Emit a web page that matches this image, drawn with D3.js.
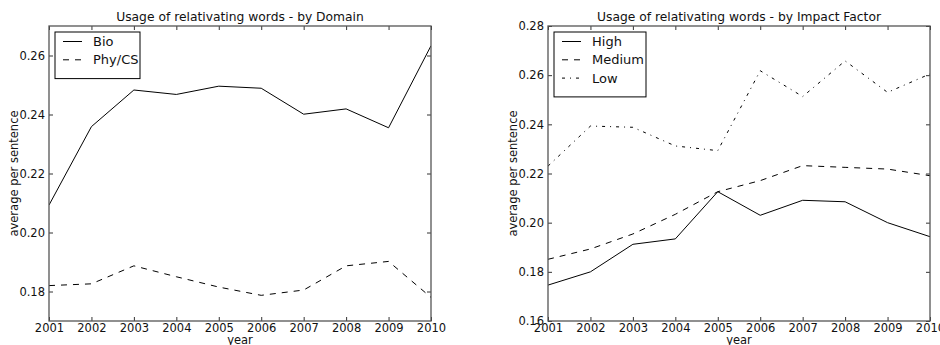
<!DOCTYPE html>
<html><head><meta charset="utf-8">
<script src="https://cdn.jsdelivr.net/npm/d3@7"></script>
<style>body{margin:0;background:#fff}svg{display:block;font-family:"DejaVu Sans",sans-serif}</style>
</head><body><svg id="c" width="940" height="345"></svg>
<script>
const years = [2001,2002,2003,2004,2005,2006,2007,2008,2009,2010];
const bio    = [0.2093,0.2359,0.2483,0.2468,0.2496,0.2489,0.2401,0.2419,0.2355,0.2633];
const phycs  = [0.1820,0.1826,0.1887,0.1850,0.1815,0.1787,0.1805,0.1887,0.1902,0.1780];
const high   = [0.1746,0.1800,0.1912,0.1934,0.2126,0.2030,0.2091,0.2085,0.2000,0.1943];
const medium = [0.1851,0.1893,0.1954,0.2034,0.2126,0.2171,0.2232,0.2225,0.2218,0.2191];
const low    = [0.2230,0.2393,0.2388,0.2312,0.2293,0.2618,0.2513,0.2658,0.2530,0.2605];
const leftTicks = [0.18,0.20,0.22,0.24,0.26];
const rightTicks = [0.16,0.18,0.20,0.22,0.24,0.26,0.28];

const dashes = {solid:null, dashed:"6,6", dashdot:"3,5,1,5"};
const svg = d3.select("#c");

function panel(cfg){
  const {x0,x1,y0,y1,domain,ticks,title,series,legendW,ylabX} = cfg;
  const x = d3.scaleLinear().domain([2001,2010]).range([x0,x1]);
  const y = d3.scaleLinear().domain(domain).range([y1,y0]);
  const g = svg.append("g");
  const clipId = "clip"+x0;
  g.append("clipPath").attr("id",clipId).append("rect").attr("x",x0).attr("y",y0).attr("width",x1-x0).attr("height",y1-y0);
  const line = d3.line().x((d,i)=>x(years[i])).y(d=>y(d));
  series.forEach(s=>{
    g.append("path").attr("d",line(s.values)).attr("fill","none").attr("stroke","#000")
     .attr("stroke-width",1).attr("stroke-dasharray",dashes[s.style]).attr("clip-path",`url(#${clipId})`);
  });
  const fmt = d3.format(".2f");
  const ax = g.append("g").attr("transform",`translate(0,${y1})`).call(d3.axisBottom(x).tickValues(years).tickFormat(d3.format("d")).tickSize(-4).tickPadding(3));
  const axT = g.append("g").attr("transform",`translate(0,${y0})`).call(d3.axisTop(x).tickValues(years).tickFormat("").tickSize(-4));
  const ay = g.append("g").attr("transform",`translate(${x0},0)`).call(d3.axisLeft(y).tickValues(ticks).tickFormat(fmt).tickSize(-4).tickPadding(4));
  const ayR = g.append("g").attr("transform",`translate(${x1},0)`).call(d3.axisRight(y).tickValues(ticks).tickFormat("").tickSize(-4));
  [ax,axT,ay,ayR].forEach(a=>{a.select(".domain").remove();a.selectAll("line").attr("stroke","#333");a.selectAll("text").attr("fill","#111").style("font-size","11.5px").style("font-family","DejaVu Sans");});
  g.append("rect").attr("x",x0).attr("y",y0).attr("width",x1-x0).attr("height",y1-y0).attr("fill","none").attr("stroke","#555").attr("stroke-width",1.3);
  g.append("text").attr("x",(x0+x1)/2).attr("y",y0-5).attr("text-anchor","middle").style("font-size","12.3px").attr("fill","#111").text(title);
  g.append("text").attr("x",(x0+x1)/2).attr("y",y1+22.5).attr("text-anchor","middle").style("font-size","11.5px").attr("fill","#111").text("year");
  g.append("text").attr("transform",`translate(${ylabX},${(y0+y1)/2}) rotate(-90)`).attr("text-anchor","middle").attr("dominant-baseline","central").style("font-size","11.5px").attr("fill","#111").text("average per sentence");
  const lx = x0+6, ly = y0+6, rowH = 18.3;
  const lh = 10 + series.length*rowH;
  g.append("rect").attr("x",lx).attr("y",ly).attr("width",legendW).attr("height",lh).attr("fill","#fff").attr("stroke","#000").attr("stroke-width",1);
  series.forEach((s,i)=>{
    const cy = ly + 9.5 + i*rowH;
    g.append("line").attr("x1",lx+8).attr("x2",lx+27).attr("y1",cy).attr("y2",cy).attr("stroke","#000").attr("stroke-dasharray",dashes[s.style]);
    g.append("text").attr("x",lx+38).attr("y",cy).attr("dominant-baseline","central").style("font-size","13px").attr("fill","#111").text(s.name);
  });
}

panel({x0:49,x1:431,y0:26,y1:321,domain:[0.17,0.27],ticks:leftTicks,title:"Usage of relativating words - by Domain",legendW:85,ylabX:14,
  series:[{name:"Bio",values:bio,style:"solid"},{name:"Phy/CS",values:phycs,style:"dashed"}]});
panel({x0:548,x1:930,y0:26,y1:321,domain:[0.16,0.28],ticks:rightTicks,title:"Usage of relativating words - by Impact Factor",legendW:92,ylabX:513,
  series:[{name:"High",values:high,style:"solid"},{name:"Medium",values:medium,style:"dashed"},{name:"Low",values:low,style:"dashdot"}]});
</script></body></html>
